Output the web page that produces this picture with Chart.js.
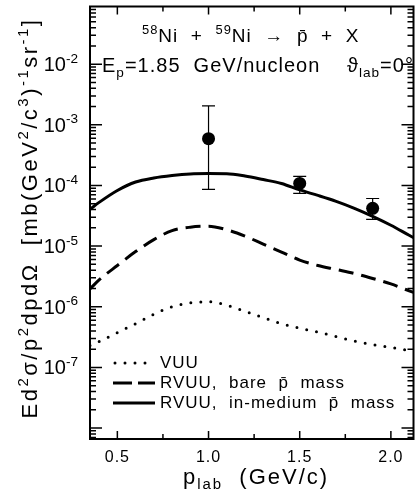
<!DOCTYPE html>
<html lang="en">
<head>
<meta charset="UTF-8">
<title>Antiproton spectrum Ni + Ni</title>
<script src="https://cdn.jsdelivr.net/npm/chart.js"></script>
<style>
  body { margin: 0; background: #fff; }
  canvas { display: block; }
</style>
</head>
<body>
<canvas id="chart" width="420" height="500"></canvas>
<script>
// momentum grid for the model curves (GeV/c)
const pLab = [0.35, 0.4, 0.5, 0.6, 0.7, 0.8, 0.9, 1.0, 1.1, 1.2, 1.3, 1.4, 1.5, 1.6, 1.7, 1.8, 1.9, 2.0, 2.1, 2.13];

// invariant cross sections, mb (GeV^2/c^3)^-1 sr^-1
const vuu = [2.30e-7, 2.67e-7, 3.75e-7, 5.26e-7, 7.53e-7, 1.0e-6, 1.16e-6, 1.21e-6, 1.06e-6, 8.44e-7,
             6.6e-7, 5.26e-7, 4.44e-7, 3.82e-7, 3.22e-7, 2.72e-7, 2.38e-7, 2.13e-7, 1.90e-7, 1.83e-7];
const rvuuBare = [1.97e-6, 2.77e-6, 4.79e-6, 8.12e-6, 1.28e-5, 1.80e-5, 2.05e-5, 2.13e-5, 1.86e-5, 1.46e-5,
                  1.08e-5, 7.98e-6, 5.89e-6, 4.79e-6, 4.12e-6, 3.54e-6, 2.93e-6, 2.38e-6, 1.83e-6, 1.70e-6];
const rvuuMedium = [4.05e-5, 5.26e-5, 8.27e-5, 1.14e-4, 1.33e-4, 1.46e-4, 1.55e-4, 1.57e-4, 1.56e-4, 1.43e-4,
                    1.25e-4, 1.08e-4, 8.44e-5, 6.85e-5, 5.47e-5, 4.2e-5, 3.1e-5, 2.21e-5, 1.51e-5, 1.35e-5];

// measured points with error bars
const expP = [1.0, 1.5, 1.9];
const expVal = [5.9e-4, 1.08e-4, 4.2e-5];
const expLow = [8.6e-5, 7.4e-5, 2.77e-5];
const expHigh = [2.05e-3, 1.41e-4, 6.1e-5];

// axis ticks
const xTicks = [0.5, 1.0, 1.5, 2.0];
const xTickLabels = ['0.5', '1.0', '1.5', '2.0'];
const xMinorTicks = [0.75, 1.25, 1.75];
const yExponents = [-2, -3, -4, -5, -6, -7];

const FAM = '"Liberation Sans", Arial, sans-serif';

function pts(xs, ys) {
  return xs.map((x, i) => ({ x: x, y: ys[i] }));
}

// text with superscript (1) / subscript (-1) parts
function drawRich(ctx, parts, x, y, size, align, spacing) {
  ctx.letterSpacing = (spacing || 0) + 'px';
  let w = 0;
  const items = parts.map(([t, k]) => {
    const s = k ? size * 0.68 : size;
    ctx.font = s + 'px ' + FAM;
    const it = { t: t, s: s, x: w, dy: k === 1 ? -size * 0.42 : (k === -1 ? size * 0.24 : 0) };
    w += ctx.measureText(t).width;
    return it;
  });
  const x0 = align === 'center' ? x - w / 2 : (align === 'right' ? x - w : x);
  ctx.textAlign = 'left';
  ctx.textBaseline = 'alphabetic';
  items.forEach(it => {
    ctx.font = it.s + 'px ' + FAM;
    ctx.fillText(it.t, x0 + it.x, y + it.dy);
  });
  ctx.letterSpacing = '0px';
}

const errorBars = {
  id: 'errorBars',
  afterDatasetsDraw(chart) {
    const ctx = chart.ctx, xs = chart.scales.x, ys = chart.scales.y;
    ctx.save();
    ctx.strokeStyle = '#000';
    ctx.lineWidth = 1.2;
    expP.forEach((p, i) => {
      const px = xs.getPixelForValue(p);
      const top = ys.getPixelForValue(expHigh[i]);
      const bot = ys.getPixelForValue(expLow[i]);
      ctx.beginPath();
      ctx.moveTo(px, top); ctx.lineTo(px, bot);
      ctx.moveTo(px - 6.5, top); ctx.lineTo(px + 6.5, top);
      ctx.moveTo(px - 6.5, bot); ctx.lineTo(px + 6.5, bot);
      ctx.stroke();
    });
    ctx.restore();
  }
};

const frameAndText = {
  id: 'frameAndText',
  afterDraw(chart) {
    const ctx = chart.ctx, a = chart.chartArea;
    const xs = chart.scales.x, ys = chart.scales.y;
    ctx.save();
    ctx.strokeStyle = '#000';
    ctx.fillStyle = '#000';
    ctx.lineWidth = 2;
    ctx.strokeRect(a.left, a.top, a.right - a.left, a.bottom - a.top);

    // inward ticks
    ctx.lineWidth = 1.5;
    ctx.beginPath();
    const yTick = (v, len) => {
      const py = ys.getPixelForValue(v);
      if (py < a.top || py > a.bottom) return;
      ctx.moveTo(a.left, py); ctx.lineTo(a.left + len, py);
      ctx.moveTo(a.right, py); ctx.lineTo(a.right - len, py);
    };
    for (let e = -9; e <= -1; e++) {
      yTick(Math.pow(10, e), 12);
      for (let m = 2; m <= 9; m++) yTick(m * Math.pow(10, e), 6);
    }
    const xTick = (v, len) => {
      const px = xs.getPixelForValue(v);
      ctx.moveTo(px, a.bottom); ctx.lineTo(px, a.bottom - len);
      ctx.moveTo(px, a.top); ctx.lineTo(px, a.top + len);
    };
    xTicks.forEach(v => xTick(v, 8));
    xMinorTicks.forEach(v => xTick(v, 5));
    ctx.stroke();

    // tick labels
    yExponents.forEach(e => {
      const py = ys.getPixelForValue(Math.pow(10, e));
      drawRich(ctx, [['10', 0], ['-' + Math.abs(e), 1]], 78, py + 7, 20, 'right', 0);
    });
    xTicks.forEach((v, i) => {
      drawRich(ctx, [[xTickLabels[i], 0]], xs.getPixelForValue(v), 462, 16, 'center', 1);
    });

    // axis titles
    drawRich(ctx, [['p', 0], ['lab', -1], ['  (GeV/c)', 0]], 256, 484, 22, 'center', 2);
    ctx.save();
    ctx.translate(37, 218);
    ctx.rotate(-Math.PI / 2);
    drawRich(ctx, [['Ed', 0], ['2', 1], ['\u03c3/p', 0], ['2', 1], ['dpd\u03a9  [mb(GeV', 0], ['2', 1],
                   ['/c', 0], ['3', 1], [')', 0], ['-1', 1], ['sr', 0], ['-1', 1], [']', 0]],
             0, 0, 22, 'center', 2.5);
    ctx.restore();

    // reaction labels
    drawRich(ctx, [['58', 1], ['Ni  +  ', 0], ['59', 1], ['Ni  \u2192  p\u0304  +  X', 0]], 142, 42, 19, 'left', 1);
    drawRich(ctx, [['E', 0], ['p', -1], ['=1.85  GeV/nucleon', 0]], 102, 72, 20, 'left', 1);
    drawRich(ctx, [['\u03d1', 0], ['lab', -1], ['=0\u00b0', 0]], 347, 72, 20, 'left', 1);

    // legend
    const rows = [
      { y: 363, dash: [0, 10], cap: 'round', text: 'VUU' },
      { y: 383, dash: [19, 6], cap: 'butt', text: 'RVUU,  bare  p\u0304  mass' },
      { y: 403, dash: [], cap: 'butt', text: 'RVUU,  in-medium  p\u0304  mass' }
    ];
    rows.forEach(r => {
      ctx.save();
      ctx.lineWidth = 3;
      ctx.setLineDash(r.dash);
      ctx.lineCap = r.cap;
      ctx.beginPath();
      ctx.moveTo(r.cap === 'round' ? 115 : 113, r.y);
      ctx.lineTo(155, r.y);
      ctx.stroke();
      ctx.restore();
      drawRich(ctx, [[r.text, 0]], 160, r.y + 5, 17, 'left', 1);
    });
    ctx.restore();
  }
};

new Chart(document.getElementById('chart'), {
  type: 'line',
  data: {
    datasets: [
      {
        label: 'VUU',
        data: pts(pLab, vuu),
        borderColor: '#000',
        borderWidth: 3,
        borderDash: [0, 10],
        borderCapStyle: 'round',
        pointRadius: 0,
        cubicInterpolationMode: 'monotone'
      },
      {
        label: 'RVUU, bare p mass',
        data: pts(pLab, rvuuBare),
        borderColor: '#000',
        borderWidth: 3,
        borderDash: [15, 8],
        pointRadius: 0,
        cubicInterpolationMode: 'monotone'
      },
      {
        label: 'RVUU, in-medium p mass',
        data: pts(pLab, rvuuMedium),
        borderColor: '#000',
        borderWidth: 3,
        pointRadius: 0,
        cubicInterpolationMode: 'monotone'
      },
      {
        label: 'data',
        data: pts(expP, expVal),
        showLine: false,
        pointRadius: 6.5,
        pointBackgroundColor: '#000',
        pointBorderColor: '#000',
        pointBorderWidth: 0
      }
    ]
  },
  options: {
    responsive: false,
    animation: false,
    events: [],
    layout: { padding: { left: 90, top: 4, right: 0, bottom: 61 } },
    plugins: { legend: { display: false }, tooltip: { enabled: false } },
    scales: {
      x: { type: 'linear', min: 0.35, max: 2.124, display: false },
      y: { type: 'logarithmic', min: 6.6e-9, max: 0.0893, display: false }
    }
  },
  plugins: [errorBars, frameAndText]
});
</script>
</body>
</html>
